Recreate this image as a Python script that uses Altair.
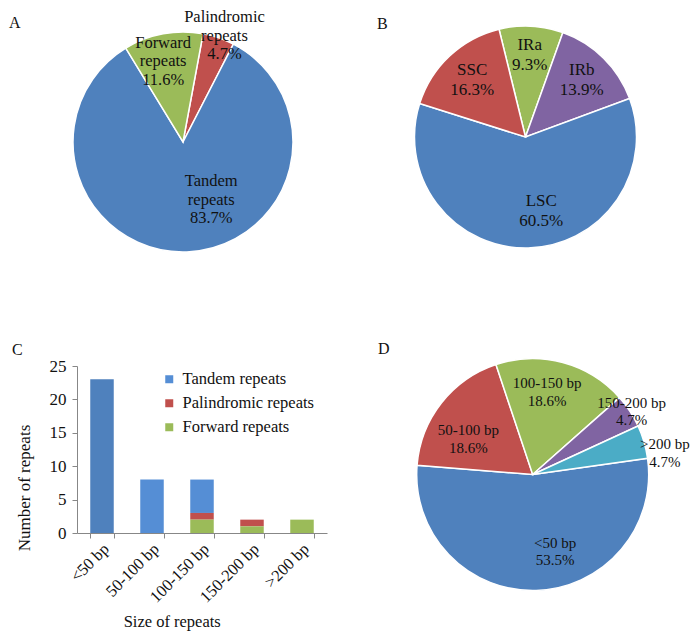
import math
import altair as alt
import pandas as pd

SERIF = "Liberation Serif"

# ---------------- data ----------------
# Panel A: type of repeats (counts)
repeat_types = ["Palindromic repeats", "Tandem repeats", "Forward repeats"]
repeat_type_counts = [2, 36, 5]

# Panel B: location of repeats (percent)
regions = ["IRa", "IRb", "LSC", "SSC"]
region_percents = [9.3, 13.9, 60.5, 16.3]

# Panel C: size of repeats by type
size_classes = ["<50 bp", "50-100 bp", "100-150 bp", "150-200 bp", ">200 bp"]
series_names = ["Tandem repeats", "Palindromic repeats", "Forward repeats"]
tandem_counts = [23, 8, 5, 0, 0]
palindromic_counts = [0, 0, 1, 1, 0]
forward_counts = [0, 0, 2, 1, 2]

# Panel D: size of repeats (counts)
size_class_counts = [23, 8, 8, 2, 2]

panel_letters = ["A", "B", "C", "D"]

# ---------------- style ----------------
BLUE = "#4F81BD"
LIGHT_BLUE = "#558ED5"
RED = "#C0504D"
GREEN = "#9BBB59"
PURPLE = "#8064A2"
AQUA = "#4BACC6"
AXIS_GRAY = "#878787"
TEXT = "#111111"

PLOT_W, PLOT_H = 250, 167
PAD = {"left": 69, "top": 358, "right": 365, "bottom": 101}


def pie(categories, values, palette, cx, cy, r, start_deg, font_size,
        line_height, n_lines, label_expr, label_specs):
    df = pd.DataFrame({"category": categories, "value": values,
                       "idx": list(range(len(categories)))})
    a0 = math.radians(start_deg)
    tscale = alt.Scale(domain=[0, 1], range=[a0, a0 + 2 * math.pi])
    base = (
        alt.Chart(df)
        .transform_joinaggregate(total="sum(value)")
        .transform_window(cum="sum(value)", sort=[alt.SortField("idx", order="ascending")],
                          frame=[None, 0])
        .transform_calculate(
            t0="(datum.cum - datum.value) / datum.total",
            t1="datum.cum / datum.total",
            tm="(datum.cum - datum.value / 2) / datum.total",
            label=label_expr,
        )
    )
    arc = base.mark_arc(radius=r, stroke="white", strokeWidth=1.5).encode(
        theta=alt.Theta("t0:Q", scale=tscale),
        theta2="t1:Q",
        color=alt.Color("category:N",
                        scale=alt.Scale(domain=categories, range=palette),
                        legend=None),
        x=alt.value(cx),
        y=alt.value(cy),
    )
    layers = [arc]
    shift = (n_lines - 1) * line_height / 2
    for cat, rad, dx, dy in label_specs:
        t = (
            base.transform_filter(alt.datum.category == cat)
            .mark_text(radius=rad, dx=dx, dy=dy - shift, fontSize=font_size,
                       lineHeight=line_height, lineBreak="\n", font=SERIF,
                       color=TEXT, align="center", baseline="middle")
            .encode(theta=alt.Theta("tm:Q", scale=tscale),
                    text="label:N",
                    x=alt.value(cx), y=alt.value(cy))
        )
        layers.append(t)
    return alt.layer(*layers)


SPLIT_PCT = "replace(datum.category, ' ', '\\n') + '\\n' + format(datum.value / datum.total, '.1%')"
PLAIN_PCT = "datum.category + '\\n' + format(datum.value / datum.total, '.1%')"

pie_a = pie(repeat_types, repeat_type_counts, [RED, BLUE, GREEN],
            106, -224, 110, 10.5, 16.5, 18.5, 3, SPLIT_PCT,
            [("Palindromic repeats", 122, 2, 9),
             ("Tandem repeats", 62, 26, -4),
             ("Forward repeats", 82, -5, 0)])

pie_b = pie(regions, region_percents, [GREEN, PURPLE, BLUE, RED],
            448.5, -229, 111, -13.8, 17, 19.3, 2, PLAIN_PCT,
            [("IRa", 82, 0, 0), ("IRb", 80, 0, 0),
             ("LSC", 74, 14, 0), ("SSC", 78, 0, 0)])

pie_d = pie(size_classes, size_class_counts, [BLUE, RED, GREEN, PURPLE, AQUA],
            455.7, 108.5, 116, 82, 15, 17.7, 2, PLAIN_PCT,
            [("<50 bp", 78, 20, -1), ("50-100 bp", 74, -6, 10),
             ("100-150 bp", 83, -7, -2), ("150-200 bp", 117, 1, 1),
             (">200 bp", 141, -3, 18)])

# ---------------- bar chart (panel C) ----------------
rows = []
for i, s in enumerate(size_classes):
    for k, (name, vals) in enumerate(zip(series_names,
                                          [tandem_counts, palindromic_counts, forward_counts])):
        rows.append({"size": s, "series": name, "count": vals[i], "sidx": k})
bar_df = pd.DataFrame(rows)

bars = alt.Chart(bar_df).mark_bar().encode(
    x=alt.X("size:N", sort=size_classes,
            scale=alt.Scale(paddingInner=0.53, paddingOuter=0.265),
            axis=alt.Axis(title="Size of repeats", labelAngle=315, labelAlign="right",
                          labelBaseline="middle", labelPadding=8, labelOffset=4,
                          labelFontSize=16.5, labelFont=SERIF, labelColor=TEXT,
                          tickBand="extent", tickSize=5, tickColor=AXIS_GRAY,
                          domainColor=AXIS_GRAY, titleFont=SERIF, titleFontSize=16.5,
                          titleFontWeight="normal", titleColor=TEXT,
                          titleX=94.7, titleY=88, titleAlign="center",
                          titleBaseline="middle")),
    y=alt.Y("count:Q", scale=alt.Scale(domain=[0, 25]),
            axis=alt.Axis(title="Number of repeats", values=[0, 5, 10, 15, 20, 25],
                          grid=False, tickSize=5, tickColor=AXIS_GRAY,
                          domainColor=AXIS_GRAY, labelFont=SERIF, labelFontSize=17,
                          labelColor=TEXT, labelPadding=6, titleFont=SERIF,
                          titleFontSize=17, titleFontWeight="normal", titleColor=TEXT,
                          titleX=-53, titleY=121.5, titleAngle=270,
                          titleAlign="center", titleBaseline="middle")),
    color=alt.condition(
        "datum.size === '<50 bp' && datum.series === 'Tandem repeats'",
        alt.value(BLUE),
        alt.Color("series:N",
                  scale=alt.Scale(domain=series_names, range=[LIGHT_BLUE, RED, GREEN]),
                  legend=alt.Legend(title=None, orient="none", legendX=84, legendY=5,
                                    symbolType="square", symbolSize=64,
                                    symbolStrokeWidth=0, labelFont=SERIF,
                                    labelFontSize=16.5, labelColor=TEXT,
                                    labelOffset=5, rowPadding=7, padding=0)),
    ),
    order=alt.Order("sidx:Q", sort="descending"),
)

# ---------------- panel letters ----------------
letters_df = pd.DataFrame({"panel": panel_letters})
letter_pos = {"A": (-68, -338), "B": (300, -337), "C": (-65, -11), "D": (301, -12)}
letter_layers = []
for p in panel_letters:
    lx, ly = letter_pos[p]
    letter_layers.append(
        alt.Chart(letters_df).transform_filter(alt.datum.panel == p)
        .mark_text(font=SERIF, fontSize=16, color=TEXT, align="left", baseline="alphabetic")
        .encode(text="panel:N", x=alt.value(lx), y=alt.value(ly))
    )

chart = (
    alt.layer(bars, pie_a, pie_b, pie_d, *letter_layers)
    .resolve_scale(theta="independent", color="independent")
    .properties(width=PLOT_W, height=PLOT_H,
                autosize=alt.AutoSizeParams(type="none"), padding=PAD)
    .configure(font=SERIF)
    .configure_view(stroke=None)
)

chart.save("out.html", embed_options={"renderer": "svg", "actions": False})
